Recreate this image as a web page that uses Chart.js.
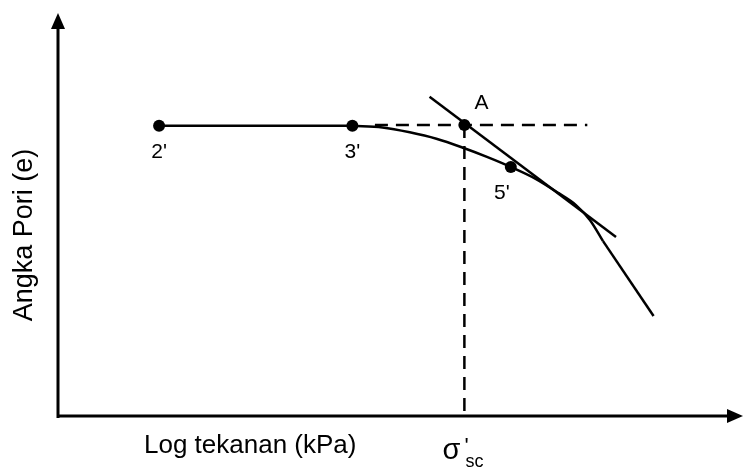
<!DOCTYPE html>
<html>
<head>
<meta charset="utf-8">
<script src="https://cdn.jsdelivr.net/npm/chart.js@4.4.1/dist/chart.umd.min.js"></script>
<style>
  html, body { margin: 0; padding: 0; background: #fff; overflow: hidden; }
  #chart { display: block; }
</style>
</head>
<body>
<canvas id="chart" width="747" height="468"></canvas>
<script>
// schematic e - log p curve, arbitrary units (0..10 on both axes)
var flatX = [1.48, 4.31];
var flatY = [7.20, 7.20];

var curveX = [4.31, 4.75, 5.15, 5.54, 5.94, 6.28, 6.63, 7.00, 7.33, 7.58, 7.79, 7.98];
var curveY = [7.20, 7.16, 7.04, 6.88, 6.65, 6.43, 6.18, 5.88, 5.53, 5.24, 4.86, 4.34];

// straight virgin-compression tail
var tailX = [7.98, 8.72];
var tailY = [4.34, 2.48];

var tangentX = [5.44, 8.17];
var tangentY = [7.92, 4.44];

var horizDashX = [4.64, 7.75];
var horizDashY = [7.22, 7.22];

var vertDashX = [5.95, 5.95];
var vertDashY = [7.22, 0];

var pointNames = ["2'", "3'", "A", "5'"];
var pointX = [1.48, 4.31, 5.95, 6.63];
var pointY = [7.20, 7.20, 7.22, 6.18];
// label offsets in px relative to the point
var labelDX = [0, 0, 17, -9];
var labelDY = [26, 26, -22, 26];

var xTitle = 'Log tekanan (kPa)';
var yTitle = 'Angka Pori (e)';

function toXY(xs, ys) {
    return xs.map(function(x, i) { return { x: x, y: ys[i] }; });
}

var FONT = '"Liberation Sans", Arial, sans-serif';

var axesPlugin = {
    id: 'axesPlugin',
    afterDatasetsDraw: function(chart) {
        var ctx = chart.ctx;
        var xs = chart.scales.x, ys = chart.scales.y;
        var x0 = xs.getPixelForValue(0), y0 = ys.getPixelForValue(0);
        var xEnd = xs.getPixelForValue(xs.max), yEnd = ys.getPixelForValue(ys.max);

        ctx.save();
        ctx.strokeStyle = '#000';
        ctx.fillStyle = '#000';
        ctx.lineWidth = 3;

        // y axis with arrow
        ctx.beginPath();
        ctx.moveTo(x0, y0 + 2);
        ctx.lineTo(x0, yEnd + 12);
        ctx.stroke();
        ctx.beginPath();
        ctx.moveTo(x0, yEnd);
        ctx.lineTo(x0 - 7, yEnd + 16);
        ctx.lineTo(x0 + 7, yEnd + 16);
        ctx.closePath();
        ctx.fill();

        // x axis with arrow
        ctx.beginPath();
        ctx.moveTo(x0, y0);
        ctx.lineTo(xEnd - 12, y0);
        ctx.stroke();
        ctx.beginPath();
        ctx.moveTo(xEnd + 2, y0);
        ctx.lineTo(xEnd - 14, y0 - 7);
        ctx.lineTo(xEnd - 14, y0 + 7);
        ctx.closePath();
        ctx.fill();

        // point labels
        ctx.font = '21px ' + FONT;
        ctx.textAlign = 'center';
        ctx.textBaseline = 'middle';
        pointNames.forEach(function(name, i) {
            var px = xs.getPixelForValue(pointX[i]) + labelDX[i];
            var py = ys.getPixelForValue(pointY[i]) + labelDY[i];
            ctx.fillText(name, px, py);
        });

        // axis titles
        ctx.font = '26px ' + FONT;
        ctx.textAlign = 'left';
        ctx.textBaseline = 'alphabetic';
        ctx.fillText(xTitle, 144, 453);

        ctx.save();
        ctx.translate(32, 235);
        ctx.rotate(-Math.PI / 2);
        ctx.textAlign = 'center';
        ctx.font = '27px ' + FONT;
        ctx.fillText(yTitle, 0, 0);
        ctx.restore();

        // sigma'_sc under the vertical dashed line
        var sx = xs.getPixelForValue(vertDashX[0]);
        ctx.font = '29px ' + FONT;
        ctx.textAlign = 'left';
        ctx.fillText('\u03C3', sx - 22, 459);
        ctx.font = '22px ' + FONT;
        ctx.fillText("'", sx, 453);
        ctx.font = '18px ' + FONT;
        ctx.fillText('sc', sx + 1, 467);
        ctx.restore();
    }
};

var lineStyle = {
    showLine: true,
    borderColor: '#000',
    backgroundColor: '#000',
    borderWidth: 2.5,
    pointRadius: 0,
    fill: false
};

new Chart(document.getElementById('chart'), {
    type: 'scatter',
    data: {
        datasets: [
            {
                label: 'points',
                data: toXY(pointX, pointY),
                showLine: false,
                pointRadius: 6,
                pointBackgroundColor: '#000',
                pointBorderColor: '#000',
                pointBorderWidth: 0
            },
            Object.assign({ label: 'flat', data: toXY(flatX, flatY) }, lineStyle),
            Object.assign({ label: 'curve', data: toXY(curveX, curveY), cubicInterpolationMode: 'monotone' }, lineStyle),
            Object.assign({ label: 'tail', data: toXY(tailX, tailY) }, lineStyle),
            Object.assign({ label: 'tangent', data: toXY(tangentX, tangentY) }, lineStyle),
            Object.assign({ label: 'horizontal', data: toXY(horizDashX, horizDashY), borderDash: [13, 8] }, lineStyle),
            Object.assign({ label: 'vertical', data: toXY(vertDashX, vertDashY), borderDash: [13, 8] }, lineStyle)
        ]
    },
    options: {
        responsive: false,
        animation: false,
        layout: {
            padding: { left: 58, right: 0, top: 13, bottom: 52 }
        },
        plugins: {
            legend: { display: false },
            tooltip: { enabled: false }
        },
        scales: {
            x: { type: 'linear', display: false, min: 0, max: 10 },
            y: { type: 'linear', display: false, min: 0, max: 10 }
        }
    },
    plugins: [axesPlugin]
});
</script>
</body>
</html>
